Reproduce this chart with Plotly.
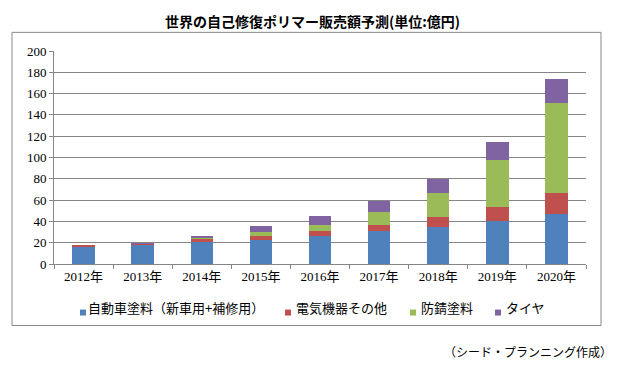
import plotly.graph_objects as go

years = ["2012年", "2013年", "2014年", "2015年", "2016年", "2017年", "2018年", "2019年", "2020年"]
series_names = ["自動車塗料（新車用+補修用）", "電気機器その他", "防錆塗料", "タイヤ"]
auto_paint = [16, 18, 21, 23, 26.5, 31, 34.5, 40.5, 47]
electric = [1, 1.2, 2.5, 3, 4.5, 5.5, 10, 13, 20]
anticorrosion = [0, 0, 1, 4, 5.5, 12, 22, 44, 84]
tire = [0, 0.3, 1.5, 5.5, 8.5, 10.5, 13.5, 17.5, 23]
y_ticks = [0, 20, 40, 60, 80, 100, 120, 140, 160, 180, 200]
title_text = "世界の自己修復ポリマー販売額予測(単位:億円)"
source_text = "（シード・プランニング作成）"

colors = ["#4F81BD", "#C0504D", "#9BBB59", "#8064A2"]
values = [auto_paint, electric, anticorrosion, tire]

# page body has an 8px margin; plot area in page pixels: x 54..586, y 50.7..264.3
OFF = 8
PL, PR, PT, PB = 54, 586, 50.7, 264.3

fig = go.Figure()
for name, vals, col in zip(series_names, values, colors):
    fig.add_trace(go.Bar(x=years, y=vals, name=name, showlegend=False,
                         marker=dict(color=col, line=dict(width=0))))

num_font = dict(family="Liberation Serif, Noto Sans CJK JP", size=13, color="#000000")

fig.update_layout(
    width=622, height=366,
    margin=dict(l=PL - OFF, r=622 - (PR - OFF), t=PT - OFF, b=366 - (PB - OFF), autoexpand=False),
    barmode="stack", bargap=0.62,
    paper_bgcolor="white", plot_bgcolor="white",
    xaxis=dict(showline=True, linecolor="#868686", linewidth=1, ticks="outside", tickson="boundaries",
               ticklen=4, tickcolor="#868686", tickfont=num_font, showgrid=False, automargin=False),
    yaxis=dict(range=[0, 200], tickvals=y_ticks, showline=True, linecolor="#868686", linewidth=1,
               ticks="outside", ticklen=4, tickcolor="#868686", tickfont=num_font,
               showgrid=True, gridcolor="#868686", gridwidth=1, zeroline=False, automargin=False),
    showlegend=False,
)

def px_x(p):
    return (p - PL) / (PR - PL)

def px_y(p):
    return (PB - p) / (PB - PT)

fig.add_annotation(text="<b>" + title_text + "</b>", xref="paper", yref="paper",
                   x=px_x(312), y=px_y(8.5), xanchor="center", yanchor="top", showarrow=False,
                   font=dict(family="Noto Sans CJK JP", size=14, color="#000000"))

fig.add_shape(type="rect", xref="paper", yref="paper",
              x0=px_x(12), x1=px_x(601), y0=px_y(326), y1=px_y(32),
              line=dict(color="#888888", width=1), fillcolor="rgba(0,0,0,0)", layer="below")

# legend (manual, compact single row)
legend_marker_x = [80, 285, 410, 495]
legend_text_x = [86, 294, 419, 504]
for name, col, mx, tx in zip(series_names, colors, legend_marker_x, legend_text_x):
    fig.add_shape(type="rect", xref="paper", yref="paper",
                  x0=px_x(mx), x1=px_x(mx + 6), y0=px_y(316), y1=px_y(310),
                  line=dict(width=0), fillcolor=col)
    fig.add_annotation(text=name, xref="paper", yref="paper", x=px_x(tx), y=px_y(308),
                       xanchor="left", yanchor="middle", showarrow=False,
                       font=dict(family="Noto Sans CJK JP", size=13, color="#000000"))

fig.add_annotation(text=source_text, xref="paper", yref="paper",
                   x=px_x(614), y=px_y(352), xanchor="right", yanchor="middle", showarrow=False,
                   font=dict(family="Noto Sans CJK JP", size=12, color="#000000"))

fig.write_html("out.html")
